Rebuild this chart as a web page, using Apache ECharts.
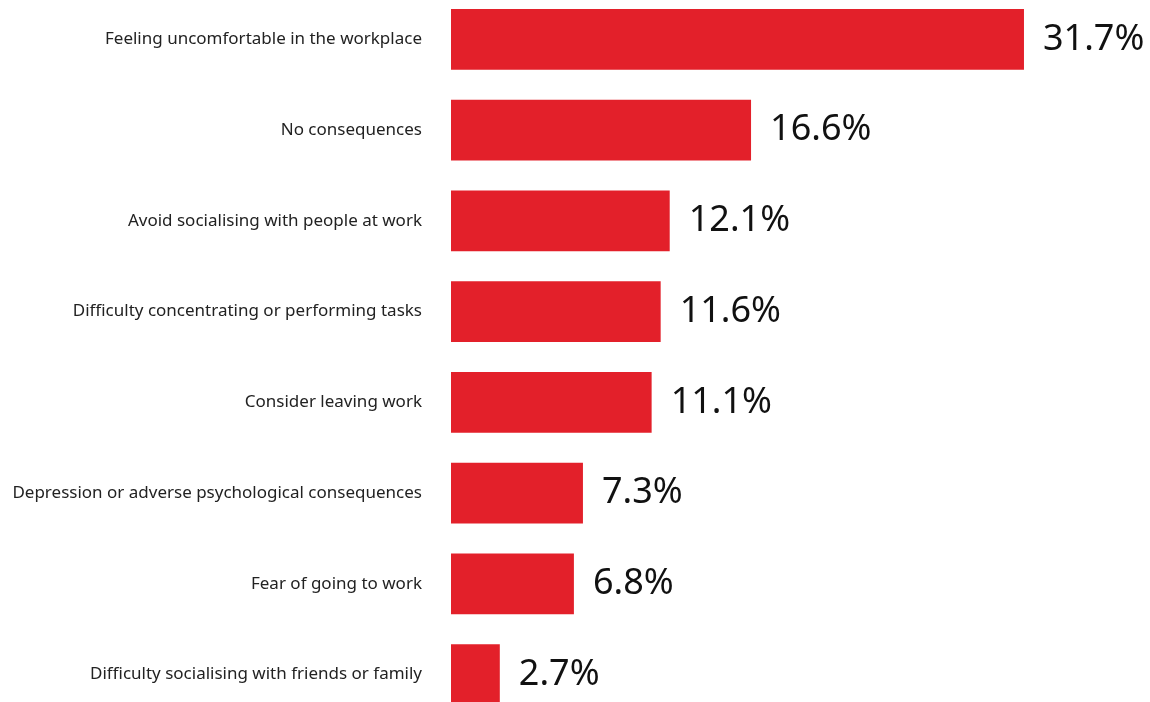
<!DOCTYPE html>
<html>
<head>
<meta charset="utf-8">
<script src="https://cdn.jsdelivr.net/npm/echarts@6/dist/echarts.min.js"></script>
<style>
  html, body { margin: 0; padding: 0; background: #ffffff; }
  #chart { width: 1150px; height: 702px; }
</style>
</head>
<body>
<div id="chart"></div>
<script>
// Consequences reported, share of respondents (%)
const categories = [
  'Feeling uncomfortable in the workplace',
  'No consequences',
  'Avoid socialising with people at work',
  'Difficulty concentrating or performing tasks',
  'Consider leaving work',
  'Depression or adverse psychological consequences',
  'Fear of going to work',
  'Difficulty socialising with friends or family'
];
const shares = [31.7, 16.6, 12.1, 11.6, 11.1, 7.3, 6.8, 2.7];

const chart = echarts.init(document.getElementById('chart'), null, { renderer: 'canvas' });

chart.setOption({
  animation: false,
  backgroundColor: '#ffffff',
  grid: {
    left: 451, top: -6, width: 723, height: 726,
    containLabel: false,
    outerBoundsMode: 'none'
  },
  xAxis: {
    type: 'value',
    min: 0,
    max: 40,
    show: false
  },
  yAxis: {
    type: 'category',
    inverse: true,
    data: categories,
    axisLine: { show: false },
    axisTick: { show: false },
    axisLabel: {
      margin: 29,
      fontFamily: 'Noto Sans',
      fontSize: 17,
      color: '#222222'
    }
  },
  series: [{
    type: 'bar',
    data: shares,
    barCategoryGap: '33%',
    itemStyle: { color: '#E3202A' },
    label: {
      show: true,
      position: 'right',
      distance: 19,
      fontFamily: 'Noto Sans',
      fontSize: 36,
      color: '#111111',
      formatter: p => p.value.toFixed(1) + '%'
    }
  }]
});
</script>
</body>
</html>
